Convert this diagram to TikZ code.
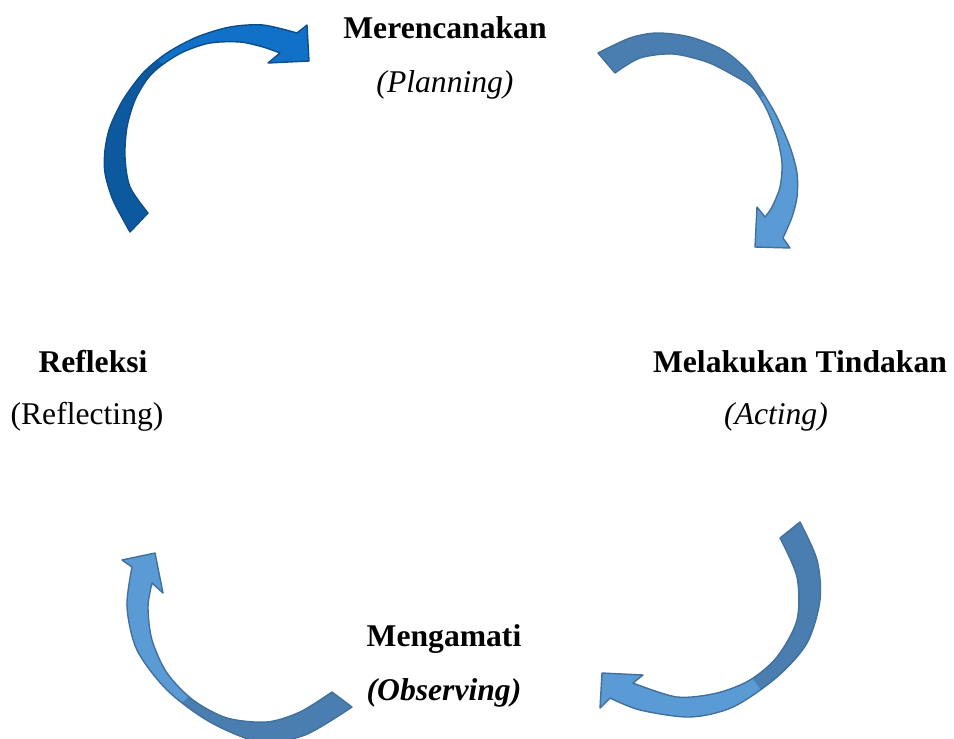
\documentclass[tikz,border=0pt]{standalone}
\usepackage{fontspec}
\setmainfont{Liberation Serif}
\definecolor{deephead}{HTML}{1171C8}
\definecolor{deeptail}{HTML}{0C599F}
\definecolor{deepedge}{HTML}{0D4E8A}
\definecolor{softhead}{HTML}{5B9BD5}
\definecolor{softtail}{HTML}{4A7EB0}
\definecolor{softedge}{HTML}{41719C}
\tikzset{
  stagetext/.style={anchor=base, font=\fontsize{18}{22}\selectfont\bfseries},
  subtext/.style={anchor=base, font=\fontsize{18}{22}\selectfont},
  deepline/.style={draw=deepedge, line width=0.8pt, line join=round},
  softline/.style={draw=softedge, line width=0.8pt, line join=round}
}
\begin{document}
\begin{tikzpicture}[x=0.02cm, y=-0.02cm]
\useasboundingbox (0,0) rectangle (954,738);

\node[stagetext] (plan) at (445,38) {Merencanakan};
\node[subtext] (planEn) at (445,92) {\itshape (Planning)};
\node[stagetext] (act) at (800,372) {Melakukan Tindakan};
\node[subtext] (actEn) at (776,424) {\itshape (Acting)};
\node[stagetext] (observe) at (444,646) {Mengamati};
\node[subtext] (observeEn) at (444,700) {\bfseries\itshape (Observing)};
\node[stagetext] (reflect) at (93,372) {Refleksi};
\node[subtext] (reflectEn) at (87,424) {(Reflecting)};

% refleksi -> merencanakan
\path[save path=\arrowone] plot[smooth] coordinates {(130,232) (113,200) (105,173) (105,150) (110,127) (123,100) (143,73) (167,53) (197,37) (230,27) (263,25) (297,33)}
  -- (307,25) -- (309,61) -- (268,63)
  -- plot[smooth] coordinates {(280,53) (263,47) (240,42) (210,43) (183,52) (162,65) (148,78) (135,100) (127,127) (125,157) (130,187) (148,213)} -- cycle;
\fill[deephead, use path=\arrowone];
\begin{scope}
\clip[use path=\arrowone];
\fill[deeptail] (185,80) -- (130,40) -- (0,40) -- (0,300) -- (300,300) -- cycle;
\end{scope}
\draw[deepline, use path=\arrowone];

% merencanakan -> melakukan tindakan
\path[save path=\arrowtwo] plot[smooth] coordinates {(598,53) (630,38) (657,33) (690,37) (723,50) (747,70) (763,93) (777,117) (790,147) (797,173) (797,197) (792,217) (783,238)}
  -- (790,248) -- (755,247) -- (757,207)
  -- plot[smooth] coordinates {(765,217) (772,207) (780,187) (782,163) (777,137) (767,110) (753,88) (733,75) (707,62) (673,54) (640,58) (615,73)} -- cycle;
\fill[softhead, use path=\arrowtwo];
\begin{scope}
\clip[use path=\arrowtwo];
\fill[softtail] (735,115) -- (800,70) -- (800,0) -- (560,0) -- (560,115) -- cycle;
\end{scope}
\draw[softline, use path=\arrowtwo];

% melakukan tindakan -> mengamati
\path[save path=\arrowthree] plot[smooth] coordinates {(800,522) (817,560) (820,600) (807,643) (777,677) (733,707) (690,717) (640,710) (610,698)}
  -- (600,708) -- (602,673) -- (643,675)
  -- plot[smooth] coordinates {(633,683) (677,697) (717,693) (750,680) (777,657) (797,620) (797,577) (780,538)} -- cycle;
\fill[softhead, use path=\arrowthree];
\begin{scope}
\clip[use path=\arrowthree];
\fill[softtail] (735,655) -- (780,715) -- (954,715) -- (954,480) -- (735,480) -- cycle;
\end{scope}
\draw[softline, use path=\arrowthree];

% mengamati -> refleksi
\path[save path=\arrowfour] plot[smooth] coordinates {(352,707) (305,735) (260,742) (210,722) (167,690) (137,650) (127,607) (132,567)}
  -- (122,560) -- (155,553) -- (163,593)
  -- plot[smooth] coordinates {(152,583) (148,607) (152,640) (167,673) (193,700) (227,718) (267,722) (300,712) (332,692)} -- cycle;
\fill[softhead, use path=\arrowfour];
\begin{scope}
\clip[use path=\arrowfour];
\fill[softtail] (160,725) -- (210,675) -- (400,675) -- (400,760) -- (160,760) -- cycle;
\end{scope}
\draw[softline, use path=\arrowfour];
\end{tikzpicture}
\end{document}
